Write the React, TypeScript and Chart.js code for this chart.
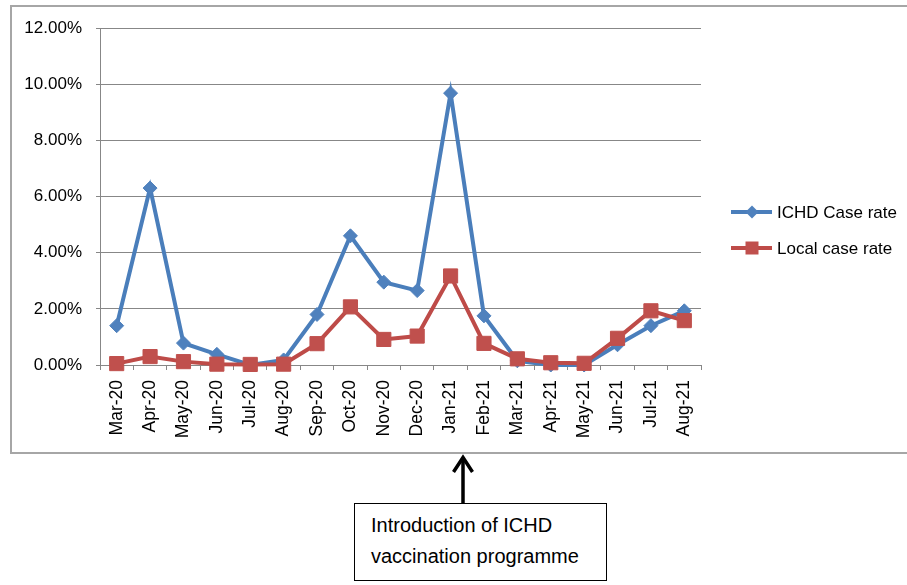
import React, { useEffect, useRef } from "react";
import { Chart, registerables } from "chart.js";

Chart.register(...registerables);

const months = [
  "Mar-20", "Apr-20", "May-20", "Jun-20", "Jul-20", "Aug-20", "Sep-20", "Oct-20", "Nov-20",
  "Dec-20", "Jan-21", "Feb-21", "Mar-21", "Apr-21", "May-21", "Jun-21", "Jul-21", "Aug-21",
];
const ichdRate = [1.4, 6.3, 0.78, 0.38, 0.0, 0.18, 1.8, 4.6, 2.95, 2.65, 9.68, 1.75, 0.15, 0.0, 0.0, 0.72, 1.4, 1.93];
const localRate = [0.05, 0.3, 0.12, 0.03, 0.02, 0.03, 0.76, 2.07, 0.91, 1.03, 3.17, 0.77, 0.22, 0.08, 0.06, 0.95, 1.93, 1.58];
const seriesNames = ["ICHD Case rate", "Local case rate"];
const yMax = 12;
const yStep = 2;
const annotationLines = ["Introduction of ICHD", "vaccination programme"];

const BLUE = "#4F81BD";
const BLUE_LINE = "#4A7EBB";
const RED = "#C0504D";
const RED_LINE = "#BE4B48";
const GRID = "#878787";
const FONT = "'Liberation Sans', Arial, sans-serif";

const legendPlugin = {
  id: "excelLegend",
  afterDraw(chart: any) {
    const ctx = chart.ctx;
    const items = [
      { label: seriesNames[0], color: BLUE_LINE, fill: BLUE, style: "diamond", y: 212 },
      { label: seriesNames[1], color: RED_LINE, fill: RED, style: "square", y: 248 },
    ];
    ctx.save();
    for (const it of items) {
      ctx.strokeStyle = it.color;
      ctx.lineWidth = 4;
      ctx.beginPath();
      ctx.moveTo(731, it.y);
      ctx.lineTo(772, it.y);
      ctx.stroke();
      ctx.fillStyle = it.fill;
      ctx.beginPath();
      if (it.style === "diamond") {
        ctx.moveTo(752, it.y - 6.5);
        ctx.lineTo(758.5, it.y);
        ctx.lineTo(752, it.y + 6.5);
        ctx.lineTo(745.5, it.y);
        ctx.closePath();
      } else {
        ctx.rect(745.5, it.y - 6.5, 13, 13);
      }
      ctx.fill();
      ctx.fillStyle = "#000";
      ctx.font = `17px ${FONT}`;
      ctx.textBaseline = "middle";
      ctx.textAlign = "left";
      ctx.fillText(it.label, 777, it.y + 1);
    }
    ctx.restore();
  },
};

export default function App() {
  const ref = useRef<HTMLCanvasElement>(null);

  useEffect(() => {
    if (!ref.current) return;
    const chart = new Chart(ref.current, {
      type: "line",
      data: {
        labels: months,
        datasets: [
          {
            label: seriesNames[0],
            data: ichdRate,
            borderColor: BLUE_LINE,
            backgroundColor: BLUE,
            borderWidth: 4,
            pointStyle: "rectRot",
            pointRadius: 7,
            pointBorderWidth: 1,
            pointBorderColor: BLUE,
            pointBackgroundColor: BLUE,
            tension: 0,
            clip: false as any,
            order: 1,
          },
          {
            label: seriesNames[1],
            data: localRate,
            borderColor: RED_LINE,
            backgroundColor: RED,
            borderWidth: 4,
            pointStyle: "rect",
            pointRadius: 10,
            pointBorderWidth: 1,
            pointBorderColor: RED,
            pointBackgroundColor: RED,
            tension: 0,
            clip: false as any,
            order: 0,
          },
        ],
      },
      options: {
        animation: false,
        responsive: false,
        maintainAspectRatio: false,
        layout: { autoPadding: false, padding: { left: 0, top: 28, right: 206, bottom: 10 } },
        plugins: { legend: { display: false }, tooltip: { enabled: false } },
        scales: {
          x: {
            type: "category",
            offset: true,
            afterFit(scale: any) {
              scale.height = 80;
            },
            grid: {
              offset: true,
              drawOnChartArea: false,
              drawTicks: true,
              tickLength: 5,
              color: GRID,
              lineWidth: 1,
            },
            border: { display: true, color: GRID, width: 1 },
            ticks: {
              minRotation: 90,
              maxRotation: 90,
              autoSkip: false,
              padding: 10,
              color: "#000",
              font: { family: FONT, size: 17.5 },
            },
          },
          y: {
            min: 0,
            max: yMax,
            afterFit(scale: any) {
              scale.width = 100;
            },
            grid: { color: GRID, lineWidth: 1, drawTicks: true, tickLength: 4 },
            border: { display: true, color: GRID, width: 1 },
            ticks: {
              stepSize: yStep,
              padding: 14,
              color: "#000",
              font: { family: FONT, size: 17 },
              callback: (v: any) => Number(v).toFixed(2) + "%",
            },
          },
        },
      },
      plugins: [legendPlugin],
    });
    return () => chart.destroy();
  }, []);

  return (
    <div style={{ position: "absolute", left: 0, top: 0, width: 907, height: 585, overflow: "hidden", background: "#fff" }}>
      <div
        style={{
          position: "absolute",
          left: 10,
          top: 5,
          width: 920,
          height: 449,
          border: "2px solid #a6a6a6",
          boxSizing: "border-box",
        }}
      />
      <canvas ref={ref} width={907} height={455} style={{ position: "absolute", left: 0, top: 0, width: 907, height: 455 }} />
      <svg width={907} height={585} style={{ position: "absolute", left: 0, top: 0 }}>
        <line x1={463} y1={503} x2={463} y2={459} stroke="#000" strokeWidth={3.5} />
        <polyline points="453.5,472 463,457.5 472.5,472" fill="none" stroke="#000" strokeWidth={3.5} strokeLinejoin="miter" />
      </svg>
      <div
        style={{
          position: "absolute",
          left: 354,
          top: 503,
          width: 253,
          height: 78,
          border: "1px solid #000",
          boxSizing: "border-box",
          padding: "6px 0 0 16px",
          fontFamily: FONT,
          fontSize: 20,
          lineHeight: "31px",
          color: "#000",
          background: "#fff",
        }}
      >
        {annotationLines.map((l) => (
          <div key={l} style={{ whiteSpace: "nowrap" }}>{l}</div>
        ))}
      </div>
    </div>
  );
}
